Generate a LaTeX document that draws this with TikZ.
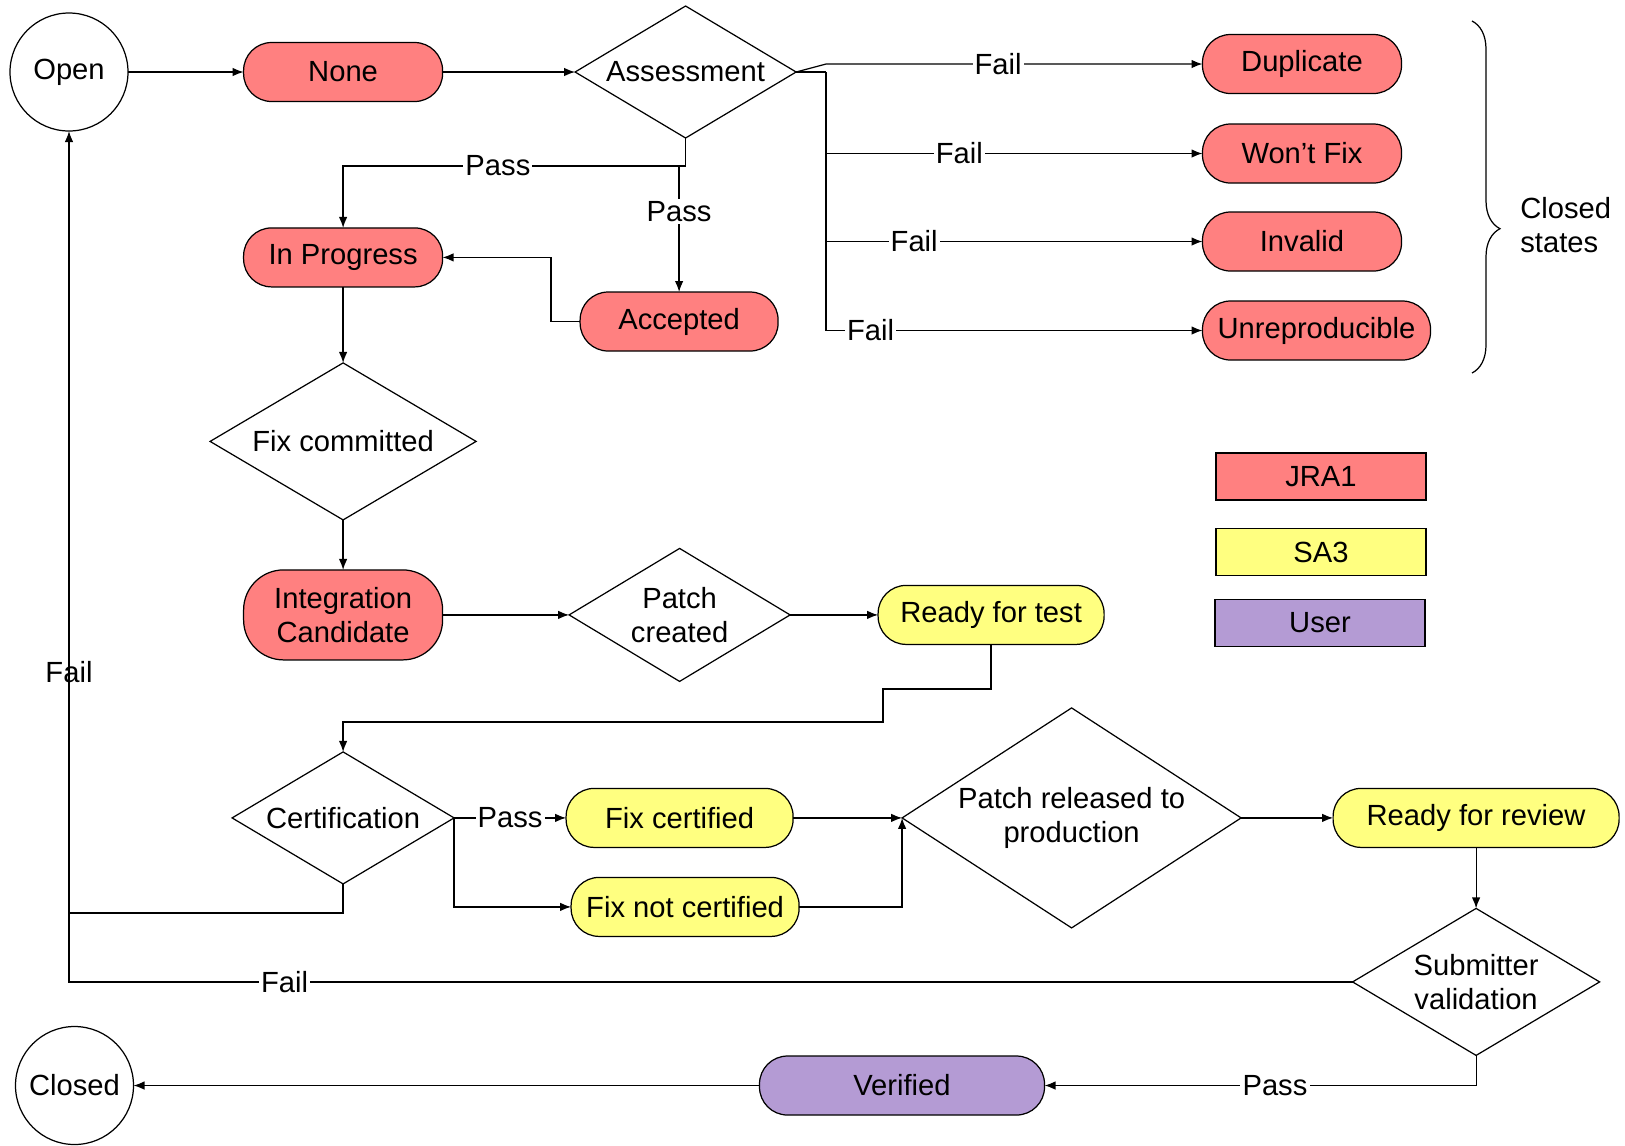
\documentclass[tikz,border=0pt]{standalone}
\usepackage{fontspec}
\setmainfont{Liberation Sans}
\usepackage{tikz}
\usetikzlibrary{positioning,shapes,arrows.meta,decorations.pathreplacing}
\definecolor{jrared}{RGB}{255,128,128}
\definecolor{sayellow}{RGB}{255,255,128}
\definecolor{userpurple}{RGB}{180,155,212}
\tikzstyle{jra}=[%
      rectangle, rounded corners=0.28cm, draw=black, fill=jrared, outer sep=0pt,
      minimum height=0.59cm, minimum width=1.99cm, inner sep=2pt, align=center
]
\tikzstyle{sa}=[%
      rectangle, rounded corners=0.28cm, draw=black, fill=sayellow, outer sep=0pt,
      minimum height=0.59cm, minimum width=2.27cm, inner sep=2pt, align=center
]
\tikzstyle{usr}=[%
      rectangle, rounded corners=0.28cm, draw=black, fill=userpurple, outer sep=0pt,
      minimum height=0.59cm, minimum width=2.85cm, inner sep=2pt, align=center
]
\tikzstyle{dec}=[%
      diamond, draw=black, fill=white, inner sep=0pt, outer sep=0pt, align=center
]
\tikzstyle{term}=[%
      circle, draw=black, minimum size=1.18cm, inner sep=0pt, outer sep=0pt
]
\tikzstyle{legendbox}=[%
      rectangle, draw=black, minimum width=2.1cm, minimum height=0.47cm, outer sep=0pt
]
\tikzstyle{lbl}=[fill=white, inner sep=0.6pt]

\begin{document}
\begin{tikzpicture}[font=\fontsize{8.3}{9.8}\selectfont, line width=0.35pt,
    >={Latex[length=1.1mm,width=0.85mm]}
  ]
    \useasboundingbox (0,0) rectangle (16.25,-11.45);

    % main flow
    \node[term] (open) at (0.69,-0.72) {Open};
    \node[jra] (none) [right=1.156cm of open] {None};
    \node[dec, aspect=1.67, minimum width=2.21cm, minimum height=1.32cm] (as) [right=1.325cm of none] {Assessment};
    \node[jra] (ipr) [below=1.264cm of none] {In Progress};
    \node[jra, minimum width=1.98cm] (acc) [below=1.54cm of as, xshift=-0.065cm] {Accepted};
    \node[dec, aspect=1.69, minimum width=2.66cm, minimum height=1.57cm] (fcm) [below=0.76cm of ipr] {Fix committed};
    \node[jra, minimum height=0.9cm, rounded corners=0.4cm] (ic) [below=0.5cm of fcm] {Integration\\Candidate};
    \node[dec, aspect=1.66, minimum width=2.21cm, minimum height=1.33cm] (pc) [right=1.265cm of ic] {Patch\\created};
    \node[sa, minimum width=2.26cm] (rft) [right=0.88cm of pc] {Ready for test};
    \node[dec, aspect=1.68, minimum width=2.22cm, minimum height=1.32cm] (cert) [below=0.92cm of ic] {Certification};
    \node[sa] (fc) [right=1.12cm of cert] {Fix certified};
    \node[sa, minimum width=2.28cm] (fnc) [below=0.3cm of fc, xshift=0.055cm] {Fix not certified};
    \node[dec, aspect=1.54, minimum width=3.39cm, minimum height=2.2cm] (pr) [right=1.09cm of fc] {Patch released to\\production};
    \node[sa, minimum width=2.86cm] (rfr) [right=0.92cm of pr] {Ready for review};
    \node[dec, aspect=1.68, minimum width=2.47cm, minimum height=1.47cm] (sv) [below=0.61cm of rfr] {Submitter\\validation};
    \node[usr] (ver) at (9.02,-10.855) {Verified};
    \node[term] (closed) [left=6.26cm of ver] {Closed};

    % closed states
    \node[jra] (dup) at (13.02,-0.64) {Duplicate};
    \node[jra] (wfx) [below=0.305cm of dup] {Won't Fix};
    \node[jra] (inv) [below=0.29cm of wfx] {Invalid};
    \node[jra, minimum width=2.28cm] (unr) [below=0.3cm of inv.south west, anchor=north west] {Unreproducible};
    \draw[decorate, decoration={brace, amplitude=0.28cm, aspect=0.59}] (14.72,-0.21) -- (14.72,-3.73);
    \node[anchor=west, align=left] (cst) at (15.08,-2.25) {Closed\\states};

    % legend
    \node[legendbox, fill=jrared] (kj) at (13.21,-4.765) {JRA1};
    \node[legendbox, fill=sayellow] (ks) [below=0.285cm of kj] {SA3};
    \node[legendbox, fill=userpurple] (ku) [below=0.24cm of ks, xshift=-0.01cm] {User};

    \draw[->] (open) -- (none);
    \draw[->] (none) -- (as);
    \draw[->] (as.east) -- ++(0.30,0.08) -- node[lbl, pos=0.457] {Fail} (dup.west);
    \draw (as.east) -- ++(0.30,0) coordinate (ft);
    \draw[->] (ft) |- node[lbl, pos=0.677] {Fail} (wfx.west);
    \draw[->] (ft) |- node[lbl, pos=0.617] {Fail} (inv.west);
    \draw[->] (ft) |- node[lbl, pos=0.559] {Fail} (unr.west);
    \draw (as.south) -- ++(0,-0.28) coordinate (pj);
    \draw[->] (pj) -| node[lbl, pos=0.274] {Pass} (ipr.north);
    \draw[->] (pj) -| node[lbl, pos=0.68] {Pass} (acc.north);
    \draw[->] (acc.west) -- ++(-0.29,0) |- (ipr.east);
    \draw[->] (ipr) -- (fcm);
    \draw[->] (fcm) -- (ic);
    \draw[->] (ic) -- (pc);
    \draw[->] (pc) -- (rft);
    \draw[->] (rft.south) -- ++(0,-0.445) -| ++(-1.08,-0.33) -| (cert.north);
    \draw[->] (cert) -- node[lbl] {Pass} (fc);
    \draw[->] (cert.east) |- (fnc.west);
    \draw[->] (fc) -- (pr);
    \draw[->] (fnc.east) -| (pr.west);
    \draw[->] (pr) -- (rfr);
    \draw[->] (rfr) -- (sv);
    \draw[->] (sv.south) |- node[lbl, pos=0.733] {Pass} (ver.east);
    \draw[->] (ver) -- (closed);
    \draw[->] (sv.west) -| node[lbl, pos=0.416] {Fail} node[pos=0.682] {Fail} (open.south);
    \draw (cert.south) -- ++(0,-0.29) coordinate (cj) -- (cj -| open.south);

  \end{tikzpicture}
\end{document}
